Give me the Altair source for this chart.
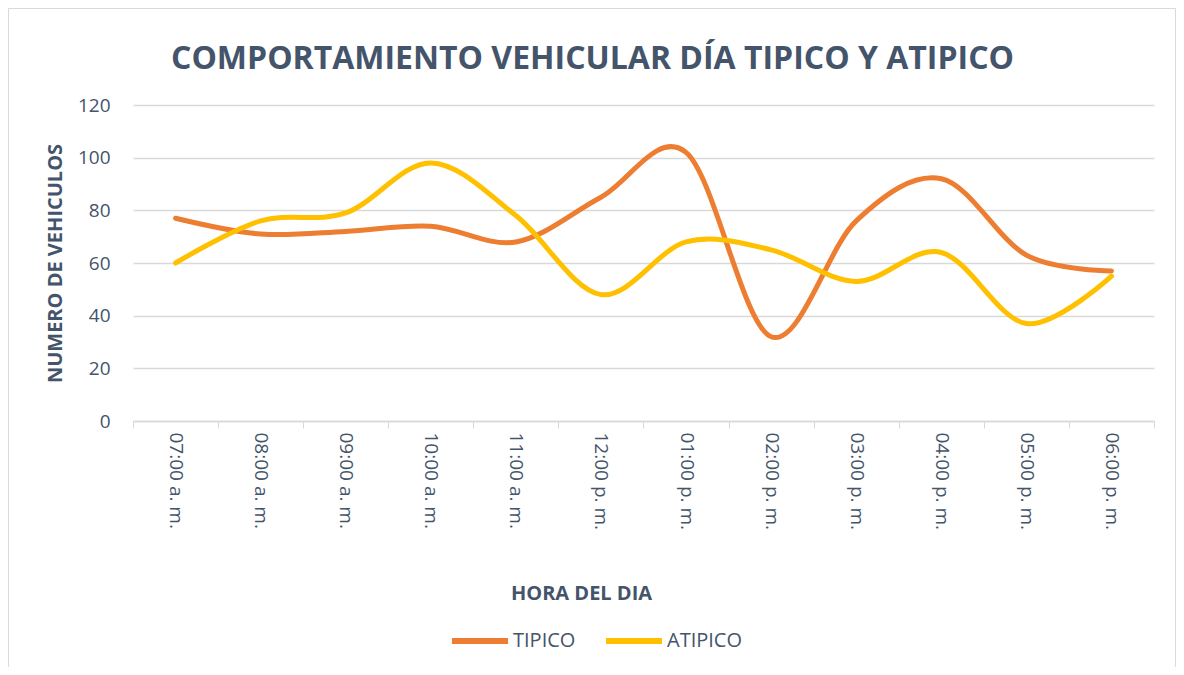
import altair as alt
import pandas as pd

horas = ["07:00 a. m.", "08:00 a. m.", "09:00 a. m.", "10:00 a. m.", "11:00 a. m.",
         "12:00 p. m.", "01:00 p. m.", "02:00 p. m.", "03:00 p. m.", "04:00 p. m.",
         "05:00 p. m.", "06:00 p. m."]
tipico = [77, 71, 72, 74, 68, 85, 102, 32, 76, 92, 63, 57]
atipico = [60, 76, 79, 98, 78, 48, 68, 65, 53, 64, 37, 55]
series = ["TIPICO", "ATIPICO"]
colores = ["#ED7D31", "#FFC000"]
y_ticks = [0, 20, 40, 60, 80, 100, 120]

rows = []
for s, vals in zip(series, [tipico, atipico]):
    for h, v in zip(horas, vals):
        rows.append({"hora": h, "serie": s, "valor": v})
df = pd.DataFrame(rows)

TXT = "#44546A"
FONT = "Open Sans"
GRID = "#D9D9D9"

border = alt.Chart(pd.DataFrame({"a": [0]})).mark_rect(
    fill=None, stroke=GRID, strokeWidth=1, clip=False
).encode(
    x=alt.value(-124.5), x2=alt.value(1042.5),
    y=alt.value(-96.5), y2=alt.value(700)
)

lines = alt.Chart(df).mark_line(
    strokeWidth=5, strokeCap="round", interpolate="cardinal", tension=0
).encode(
    x=alt.X("hora:N", sort=horas, bandPosition=0.5,
            scale=alt.Scale(type="band", paddingInner=0, paddingOuter=0),
            axis=alt.Axis(title="HORA DEL DIA", labelAngle=90, labelAlign="left",
                          labelBaseline="middle", labelFontSize=19, labelColor=TXT,
                          labelFont=FONT, labelPadding=4, tickBand="extent",
                          ticks=True, tickSize=7, tickColor=GRID, domainColor=GRID,
                          domainWidth=1.5, grid=False,
                          titleFont=FONT, titleFontSize=20, titleFontWeight="bold",
                          titleColor=TXT, titleX=448, titleY=172,
                          titleAlign="center", titleBaseline="middle")),
    y=alt.Y("valor:Q", scale=alt.Scale(domain=[0, 120], nice=False),
            axis=alt.Axis(title="NUMERO DE VEHICULOS", values=y_ticks,
                          labelFontSize=19, labelColor=TXT, labelFont=FONT,
                          labelPadding=23, ticks=False, domain=False,
                          grid=True, gridColor=GRID, gridWidth=1.5,
                          titleFont=FONT, titleFontSize=20, titleFontWeight="bold",
                          titleColor=TXT, titleX=-78, titleY=158,
                          titleAlign="center", titleBaseline="middle")),
    color=alt.Color("serie:N", sort=series,
                    scale=alt.Scale(domain=series, range=colores),
                    legend=alt.Legend(title=None, orient="none", direction="horizontal",
                                      legendX=316, legendY=505, padding=0,
                                      symbolType="stroke", symbolSize=3136,
                                      symbolStrokeWidth=6, labelFontSize=20,
                                      labelFont=FONT, labelColor=TXT, labelOffset=2,
                                      columnPadding=18)),
)

chart = alt.layer(border, lines).properties(
    width=1021, height=316,
    padding={"left": 125, "top": 97, "right": 22, "bottom": 246},
    autosize=alt.AutoSizeParams(type="none"),
    title=alt.Title("COMPORTAMIENTO VEHICULAR DÍA TIPICO Y ATIPICO",
                    font=FONT, fontSize=32, fontWeight="bold", color=TXT,
                    anchor="middle", frame="group", dx=-51, dy=126, offset=33,
                    baseline="alphabetic")
).configure_view(stroke=None)

chart.save("out.html", embed_options={"renderer": "svg", "actions": False})
